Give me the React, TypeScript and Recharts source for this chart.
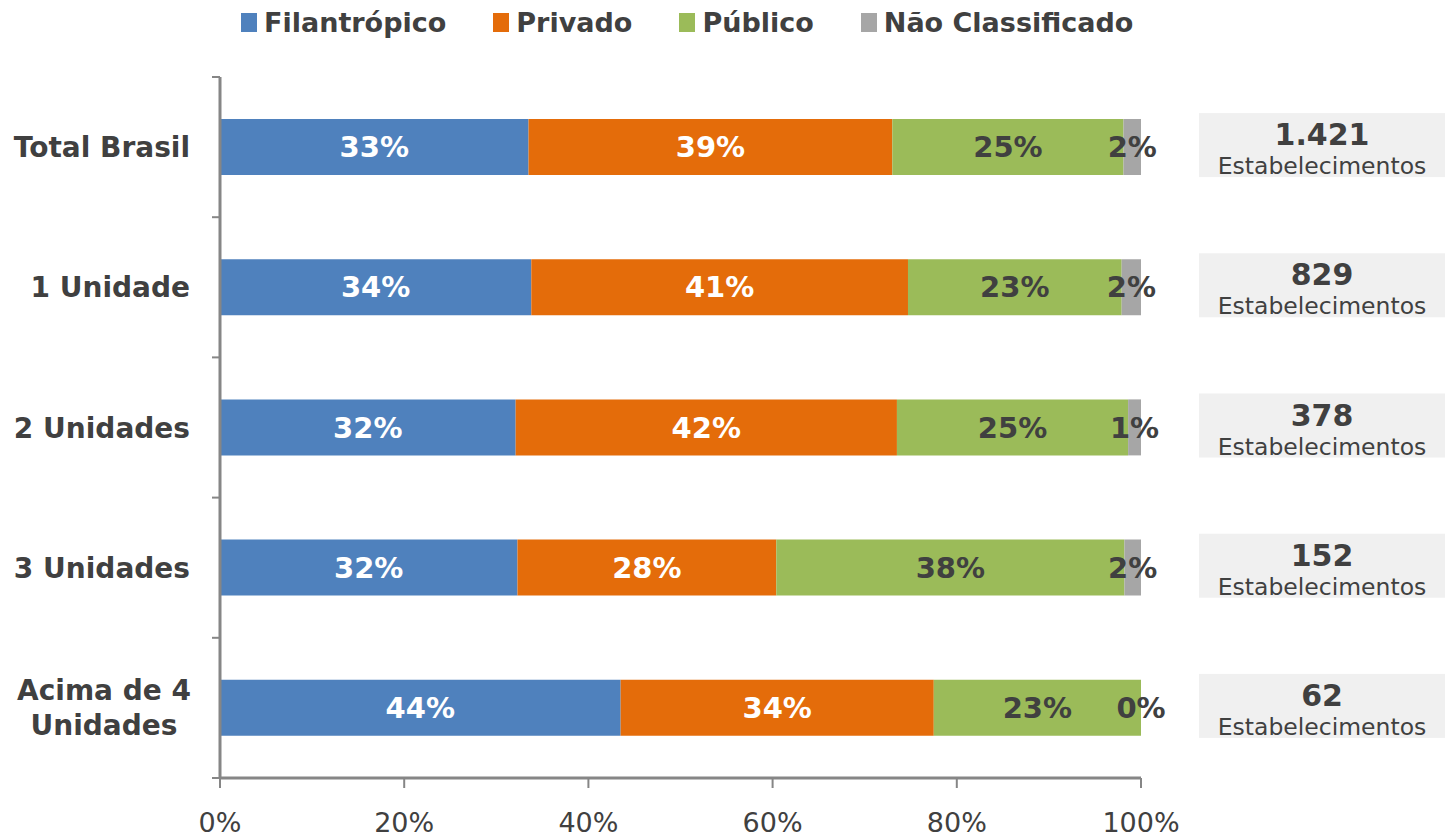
import { Bar, BarChart, LabelList, XAxis, YAxis } from "recharts";

const categories = ["Total Brasil", "1 Unidade", "2 Unidades", "3 Unidades", "Acima de 4 Unidades"];
const filantropico = [33.5, 33.8, 32.1, 32.3, 43.5];
const privado = [39.5, 40.9, 41.4, 28.1, 34.0];
const publico = [25.1, 23.2, 25.1, 37.8, 22.5];
const naoClassificado = [1.9, 2.1, 1.4, 1.8, 0];
const filantropicoLabels = ["33%", "34%", "32%", "32%", "44%"];
const privadoLabels = ["39%", "41%", "42%", "28%", "34%"];
const publicoLabels = ["25%", "23%", "25%", "38%", "23%"];
const naoClassificadoLabels = ["2%", "2%", "1%", "2%", "0%"];
const estabelecimentos = ["1.421", "829", "378", "152", "62"];
const xTicks = [0, 20, 40, 60, 80, 100];

// the helper axis spans the row indexes 0..n-1; put its ticks on the category boundaries
const n = categories.length;
const boundaryTicks = Array.from({ length: n + 1 }, (_, i) => (i * (n - 1)) / n);

const rows = categories.map((name, i) => ({
  name,
  fil: filantropico[i],
  filLabel: filantropicoLabels[i],
  pri: privado[i],
  priLabel: privadoLabels[i],
  pub: publico[i],
  pubLabel: publicoLabels[i],
  nc: naoClassificado[i],
  ncLabel: naoClassificadoLabels[i],
}));

const series = [
  { key: "fil", name: "Filantrópico", color: "#4F81BD", text: "#FFFFFF" },
  { key: "pri", name: "Privado", color: "#E46C0A", text: "#FFFFFF" },
  { key: "pub", name: "Público", color: "#9BBB59", text: "#404040" },
  { key: "nc", name: "Não Classificado", color: "#A6A6A6", text: "#404040" },
];

const FONT = "'DejaVu Sans', Verdana, sans-serif";
const DARK = "#404040";
const AXIS = "#868686";

function CategoryTick({ x, y, payload }: any) {
  const name: string = payload.value;
  if (name.length > 12) {
    const cut = name.lastIndexOf(" ");
    const lines = [name.slice(0, cut), name.slice(cut + 1)];
    return (
      <text x={x - 86} y={y} textAnchor="middle" fill={DARK} fontFamily={FONT} fontSize={28} fontWeight="bold">
        <tspan x={x - 86} dy={-8}>{lines[0]}</tspan>
        <tspan x={x - 86} dy={35}>{lines[1]}</tspan>
      </text>
    );
  }
  return (
    <text x={x} y={y} dy={10} textAnchor="end" fill={DARK} fontFamily={FONT} fontSize={28} fontWeight="bold">
      {name}
    </text>
  );
}

function TotalTick({ x, y, index }: any) {
  return (
    <g>
      <rect x={x + 58} y={y - 34} width={250} height={64} fill="#F0F0F0" />
      <text x={x + 181} y={y - 2} textAnchor="middle" fill={DARK} fontFamily={FONT} fontSize={30} fontWeight="bold">
        {estabelecimentos[index]}
      </text>
      <text x={x + 181} y={y + 27} textAnchor="middle" fill={DARK} fontFamily={FONT} fontSize={23.5}>
        Estabelecimentos
      </text>
    </g>
  );
}

// a 0% segment has no rectangle, so its label is drawn at the end of the Público segment
function ZeroLabel({ x, y, width, height, index }: any) {
  if (naoClassificado[index] !== 0) return null;
  return (
    <text
      x={x + width}
      y={y + height / 2}
      dy={10}
      textAnchor="middle"
      fill={DARK}
      fontFamily={FONT}
      fontSize={29}
      fontWeight="bold"
    >
      {naoClassificadoLabels[index]}
    </text>
  );
}

export default function App() {
  return (
    <div style={{ position: "relative", width: 1445, height: 837 }}>
      <style>{"body{margin:0}"}</style>
      <div
        style={{
          position: "absolute",
          top: 0,
          left: 241,
          height: 44,
          display: "flex",
          alignItems: "center",
          fontFamily: FONT,
          fontSize: 27,
          fontWeight: "bold",
          color: DARK,
          whiteSpace: "nowrap",
        }}
      >
        {series.map((s) => (
          <div key={s.key} style={{ display: "flex", alignItems: "center", marginRight: 47 }}>
            <span style={{ display: "inline-block", width: 16, height: 19, background: s.color, marginRight: 7 }} />
            <span>{s.name}</span>
          </div>
        ))}
      </div>
      <BarChart
        width={1445}
        height={837}
        data={rows}
        layout="vertical"
        margin={{ top: 77, right: 0, bottom: 0, left: 0 }}
      >
        <YAxis
          yAxisId="bounds"
          type="number"
          orientation="left"
          domain={[0, n - 1]}
          ticks={boundaryTicks}
          interval={0}
          allowDataOverflow
          width={8}
          tickFormatter={() => ""}
          tickSize={8}
          tickMargin={0}
          tickLine={{ stroke: AXIS, strokeWidth: 2 }}
          axisLine={{ stroke: AXIS, strokeWidth: 3 }}
        />
        <YAxis
          yAxisId="cat"
          type="category"
          dataKey="name"
          orientation="left"
          width={212}
          axisLine={false}
          tickLine={false}
          tickSize={0}
          tickMargin={22}
          tick={<CategoryTick />}
        />
        <YAxis
          yAxisId="right"
          type="category"
          dataKey="name"
          orientation="right"
          width={304}
          axisLine={false}
          tickLine={false}
          tickSize={0}
          tickMargin={0}
          tick={<TotalTick />}
        />
        <XAxis
          type="number"
          domain={[0, 100]}
          ticks={xTicks}
          height={59}
          tickFormatter={(v) => `${v}%`}
          tickSize={10}
          tickMargin={25}
          tick={{ fill: DARK, fontFamily: FONT, fontSize: 27 }}
          tickLine={{ stroke: AXIS, strokeWidth: 2 }}
          axisLine={{ stroke: AXIS, strokeWidth: 3 }}
        />
        {series.map((s) => (
          <Bar
            key={s.key}
            yAxisId="cat"
            dataKey={s.key}
            stackId="a"
            fill={s.color}
            barSize={56}
            isAnimationActive={false}
          >
            <LabelList
              dataKey={`${s.key}Label`}
              position="center"
              fill={s.text}
              fontFamily={FONT}
              fontSize={29}
              fontWeight="bold"
            />
            {s.key === "pub" && <LabelList dataKey="ncLabel" content={<ZeroLabel />} />}
          </Bar>
        ))}
      </BarChart>
    </div>
  );
}
